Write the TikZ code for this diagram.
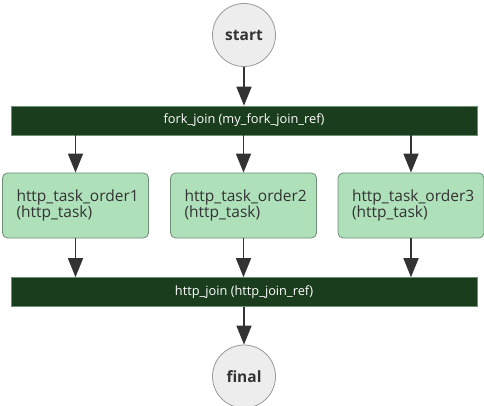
\documentclass[tikz,border=0pt]{standalone}
\usepackage{fontspec}
\setmainfont{Open Sans}
\usetikzlibrary{arrows.meta}
\definecolor{barfill}{HTML}{1A3D1D}
\definecolor{taskfill}{HTML}{AEE0BA}
\definecolor{taskline}{HTML}{6F8F76}
\definecolor{circfill}{HTML}{EDEDED}
\definecolor{circline}{HTML}{9A9A9A}
\definecolor{txt}{HTML}{333333}
\tikzset{
  x=1pt, y=-1pt,
  terminal/.style={circle, draw=circline, fill=circfill, line width=0.8pt,
    minimum size=63pt, inner sep=0pt, font=\fontsize{15.5}{18}\selectfont\bfseries, text=txt},
  forkbar/.style={rectangle, draw=taskline, fill=barfill, line width=0.6pt,
    minimum width=466pt, minimum height=29pt, inner sep=0pt,
    font=\fontsize{12.8}{15}\selectfont, text=white},
  task/.style={rectangle, rounded corners=5pt, draw=taskline, fill=taskfill,
    line width=0.8pt, minimum width=146pt, minimum height=65pt,
    text width=118pt, align=left, inner xsep=14pt, inner ysep=0pt,
    font=\fontsize{15.5}{16.5}\selectfont, text=txt},
  flow/.style={draw=black!80, line width=1.6pt,
    -{Triangle[width=15pt,length=19pt]}},
}
\begin{document}
\begin{tikzpicture}
\useasboundingbox (0,0) rectangle (484,406);
\node[terminal] (start) at (244,35) {start};
\node[forkbar] (fork) at (244,120.5) {fork\_join (my\_fork\_join\_ref)};
\node[task] (t1) at (75.5,205.5) {http\_task\_order1\\(http\_task)};
\node[task] (t2) at (243.5,205.5) {http\_task\_order2\\(http\_task)};
\node[task] (t3) at (411,205.5) {http\_task\_order3\\(http\_task)};
\node[forkbar] (join) at (244,292) {http\_join (http\_join\_ref)};
\node[terminal] (final) at (244,376.5) {final};

\draw[flow] (start) -- (fork);
\draw[flow] (fork.south -| t1) -- (t1);
\draw[flow] (fork.south -| t2) -- (t2);
\draw[flow] (fork.south -| t3) -- (t3);
\draw[flow] (t1) -- (join.north -| t1);
\draw[flow] (t2) -- (join.north -| t2);
\draw[flow] (t3) -- (join.north -| t3);
\draw[flow] (join) -- (final);
\end{tikzpicture}
\end{document}
